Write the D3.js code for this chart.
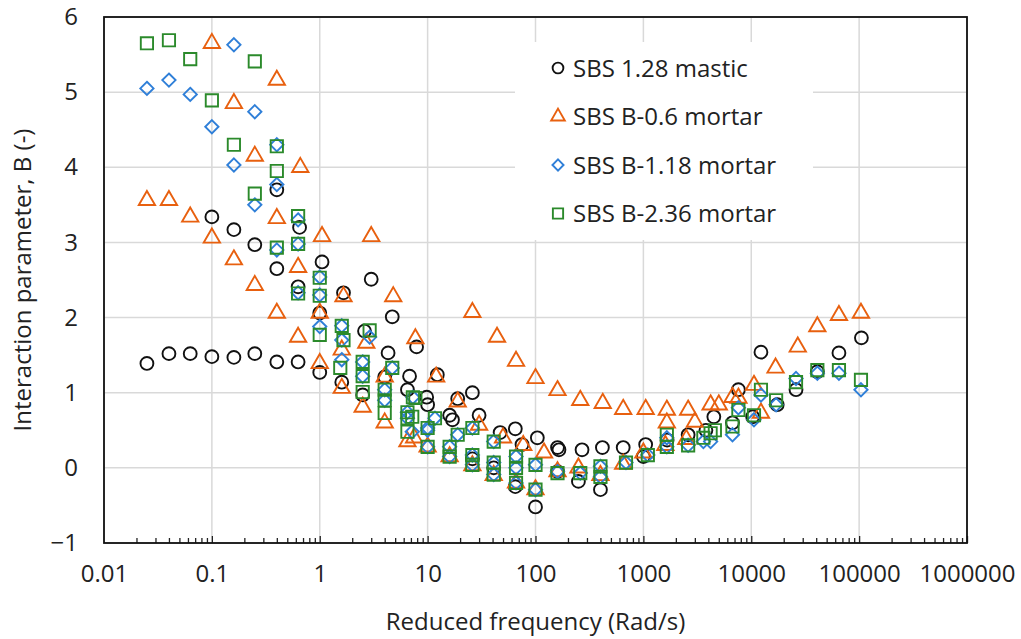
<!DOCTYPE html>
<html>
<head>
<meta charset="utf-8">
<script src="https://cdn.jsdelivr.net/npm/d3@7"></script>
<style>
  body { margin: 0; background: #fff; }
  svg text { font-family: "Open Sans", sans-serif; fill: #222; }
</style>
</head>
<body>
<div id="chart"></div>
<script>
// tick values / labels
var xTicks = [0.01, 0.1, 1, 10, 100, 1000, 10000, 100000, 1000000];
var xTickLabels = ["0.01", "0.1", "1", "10", "100", "1000", "10000", "100000", "1000000"];
var yTicks = [-1, 0, 1, 2, 3, 4, 5, 6];

var seriesNames = ["SBS 1.28 mastic", "SBS B-0.6 mortar", "SBS B-1.18 mortar", "SBS B-2.36 mortar"];

// [reduced frequency, B]
var mastic = [
  [0.025,1.39],[0.04,1.52],[0.063,1.52],[0.1,1.48],[0.16,1.47],[0.25,1.52],[0.4,1.41],[0.63,1.41],[1.0,1.27],[1.6,1.14],[2.5,0.97],
  [0.1,3.34],[0.16,3.17],[0.25,2.97],[0.4,2.65],[0.63,2.41],[1.0,2.06],[2.6,1.82],[4.3,1.53],
  [0.4,3.7],[0.65,3.2],[1.05,2.74],[1.66,2.33],[3.0,2.51],[4.7,2.01],[7.9,1.61],[12.3,1.24],
  [4.0,1.21],[6.5,1.04],[6.8,1.22],[9.8,0.94],[10,0.84],[16,0.7],[17,0.64],[19,0.92],[26,1.0],[30,0.7],
  [47,0.47],[65,0.52],[75,0.31],[104,0.4],[160,0.27],[165,0.24],[270,0.24],[417,0.27],[650,0.27],[1050,0.31],
  [1660,0.37],[2600,0.44],[3800,0.5],[4500,0.68],[6700,0.6],[7600,1.04],[10300,0.68],[12300,1.54],
  [17400,0.84],[26000,1.04],[41000,1.28],[65000,1.53],[105000,1.73],
  [26,0.12],[41,0.0],[65,-0.25],[100,-0.52],[160,-0.05],[250,-0.18],[400,-0.29],[1000,0.15]
];
var mortar06 = [
  [0.025,3.56],[0.04,3.56],[0.063,3.34],[0.1,3.06],[0.16,2.77],[0.25,2.43],[0.4,2.06],[0.63,1.74],[1.0,1.39],[1.6,1.06],[2.5,0.81],[4.0,0.6],[6.5,0.35],
  [0.1,5.65],[0.16,4.85],[0.25,4.15],[0.4,3.32],[0.63,2.67],[1.0,2.06],[1.6,1.57],[2.7,1.66],[4.0,1.21],
  [0.4,5.16],[0.66,4.0],[1.05,3.08],[1.66,2.28],[3.0,3.08],[4.8,2.28],[7.7,1.72],[12,1.21],[19,0.88],[30,0.57],[50,0.4],[77,0.3],[120,0.2],
  [26,2.07],[44,1.74],[66,1.42],[100,1.19],[160,1.03],[260,0.9],[420,0.86],[650,0.78],[1050,0.78],[1650,0.77],[2600,0.77],
  [4200,0.84],[5000,0.84],[6700,0.94],[7600,0.93],[10600,1.1],[16800,1.33],[27000,1.61],[41000,1.88],[65000,2.03],[104000,2.06],
  [1650,0.6],[3000,0.61],[12300,0.73],
  [7.5,0.4],[10,0.28],[16,0.15],[26,0.03],[41,-0.1],[66,-0.2],[100,-0.29],[160,-0.05],[250,0.0],[400,-0.1],[650,0.05],[1000,0.2],[1600,0.3],[2500,0.38]
];
var mortar118 = [
  [0.025,5.05],[0.04,5.16],[0.063,4.97],[0.1,4.54],[0.16,4.03],[0.25,3.5],[0.4,2.9],[0.63,2.33],[1.0,1.88],[1.6,1.44],[2.5,1.22],[4.0,0.9],[6.5,0.66],[10,0.5],
  [0.16,5.63],[0.25,4.74],[0.4,3.77],[0.63,2.98],[1.0,2.3],[1.6,1.7],[2.5,1.41],[4.0,1.04],[6.5,0.74],[10,0.53],[16,0.28],[26,0.17],[41,0.07],[66,0.0],[100,0.04],[160,-0.05],
  [0.4,4.3],[0.63,3.3],[1.0,2.54],[1.6,1.89],[2.9,1.74],[4.7,1.33],[7.3,0.94],[11.7,0.66],[19,0.44],[26,0.53],[41,0.35],[66,0.15],
  [7.2,0.48],[10,0.28],[16,0.15],[26,0.04],[41,-0.09],[66,-0.2],[100,-0.29],[260,-0.07],[400,0.02],[400,-0.12],[690,0.07],[1100,0.17],
  [1650,0.28],[1650,0.4],[2600,0.3],[3600,0.35],[4200,0.35],[6700,0.44],[7600,0.8],[10600,0.64],[12300,0.97],[17000,0.84],
  [26000,1.19],[41000,1.26],[65000,1.26],[104000,1.04]
];
var mortar236 = [
  [0.025,5.65],[0.04,5.69],[0.063,5.44],[0.1,4.89],[0.16,4.3],[0.25,3.65],[0.4,2.93],[0.63,2.32],[1.0,1.77],[1.55,1.33],[2.5,1.01],[4.0,0.73],[6.5,0.48],[10,0.28],[16,0.15],[26,0.04],[41,-0.09],[66,-0.2],[100,-0.29],
  [0.25,5.41],[0.4,4.28],[0.63,3.35],[1.0,2.53],[1.6,1.89],[2.9,1.83],[4.7,1.33],
  [0.4,3.95],[0.63,2.98],[1.0,2.29],[1.66,1.7],[2.5,1.41],[4.0,1.04],[6.5,0.74],[10,0.53],[16,0.28],
  [2.5,1.22],[4.0,0.9],[6.5,0.66],[7.3,0.94],[7.7,0.93],[7.2,0.68],[11.7,0.66],[19,0.44],[26,0.53],[41,0.35],[66,0.15],
  [26,0.17],[41,0.07],[66,0.0],[100,0.04],[160,-0.07],[260,-0.07],[400,0.02],[400,-0.12],[690,0.07],[1100,0.17],
  [1650,0.28],[1650,0.44],[2600,0.3],[3600,0.4],[4200,0.46],[4600,0.5],[6700,0.55],[7600,0.77],[10600,0.7],[12300,1.04],
  [17000,0.9],[26000,1.14],[41000,1.3],[65000,1.3],[104000,1.17]
];

var colors = ["#111111", "#E8600F", "#2F7FD8", "#2B8A2B"];

// Excel-style diamond: a square turned 45 degrees
var diamondWide = {
  draw: function(context, size) {
    var r = Math.sqrt(size / 2);
    context.moveTo(0, -r);
    context.lineTo(r, 0);
    context.lineTo(0, r);
    context.lineTo(-r, 0);
    context.closePath();
  }
};
var shapes = [d3.symbolCircle, d3.symbolTriangle, diamondWide, d3.symbolSquare];
var sizes = [130, 115, 88, 150];

var width = 1021, height = 639;
var margin = {top: 17, right: 54, bottom: 96, left: 104};
var fontSize = "24px";

var svg = d3.select("#chart").append("svg")
  .attr("width", width)
  .attr("height", height);

var x = d3.scaleLog().domain([0.01, 1000000]).range([margin.left, width - margin.right]);
var y = d3.scaleLinear().domain([-1, 6]).range([height - margin.bottom, margin.top]);

// gridlines
svg.append("g").selectAll("line.gx")
  .data(xTicks)
  .enter().append("line")
  .attr("x1", function(d) { return x(d); })
  .attr("x2", function(d) { return x(d); })
  .attr("y1", y(6)).attr("y2", y(-1))
  .attr("stroke", "#d9d9d9").attr("stroke-width", 1.5);

svg.append("g").selectAll("line.gy")
  .data(yTicks)
  .enter().append("line")
  .attr("x1", x(0.01)).attr("x2", x(1000000))
  .attr("y1", function(d) { return y(d); })
  .attr("y2", function(d) { return y(d); })
  .attr("stroke", "#d9d9d9").attr("stroke-width", 1.5);

// minor ticks (inside, pointing up)
var minor = [];
xTicks.slice(0, -1).forEach(function(t) {
  for (var k = 2; k <= 10; k++) minor.push(t * k);
});
svg.append("g")
  .attr("transform", "translate(0," + y(-1) + ")")
  .call(d3.axisBottom(x).tickValues(minor).tickSize(-5).tickFormat(""))
  .call(function(g) { g.select(".domain").remove(); })
  .selectAll("line").attr("stroke", "#222").attr("stroke-width", 1.3)
  .filter(function(d) { return xTicks.indexOf(d) >= 0; }).attr("y2", -7);

// x axis labels
svg.append("g")
  .attr("transform", "translate(0," + y(-1) + ")")
  .call(d3.axisBottom(x).tickValues(xTicks).tickSize(0).tickPadding(22)
    .tickFormat(function(d, i) { return xTickLabels[i]; }))
  .call(function(g) { g.select(".domain").remove(); })
  .selectAll("text").style("font-size", fontSize).style("font-family", "'Open Sans', sans-serif").attr("fill", "#222");

// y axis labels
svg.append("g")
  .attr("transform", "translate(" + x(0.01) + ",0)")
  .call(d3.axisLeft(y).tickValues(yTicks).tickSize(0).tickPadding(26).tickFormat(d3.format("d")))
  .call(function(g) { g.select(".domain").remove(); })
  .selectAll("text").style("font-size", fontSize).style("font-family", "'Open Sans', sans-serif").attr("fill", "#222");

// frame
svg.append("rect")
  .attr("x", x(0.01)).attr("y", y(6))
  .attr("width", x(1000000) - x(0.01)).attr("height", y(-1) - y(6))
  .attr("fill", "none").attr("stroke", "#111").attr("stroke-width", 1.8);

// legend box (drawn before points so it hides gridlines)
var legend = svg.append("g");
legend.append("rect")
  .attr("x", 515).attr("y", 42).attr("width", 298).attr("height", 198)
  .attr("fill", "#fff");

// points
var allSeries = [mastic, mortar06, mortar118, mortar236];
allSeries.forEach(function(data, i) {
  svg.append("g").selectAll("path")
    .data(data)
    .enter().append("path")
    .attr("d", d3.symbol().type(shapes[i]).size(sizes[i]))
    .attr("transform", function(d) {
      return "translate(" + x(d[0]) + "," + y(d[1]) + ")";
    })
    .attr("fill", "none")
    .attr("stroke", colors[i])
    .attr("stroke-width", 1.9);
});

// legend entries
seriesNames.forEach(function(name, i) {
  var ly = 68 + i * 48.5;
  legend.append("path")
    .attr("d", d3.symbol().type(shapes[i]).size(sizes[i] * 0.7))
    .attr("transform", "translate(558," + ly + ")")
    .attr("fill", "none").attr("stroke", colors[i]).attr("stroke-width", 1.9);
  legend.append("text")
    .attr("x", 573).attr("y", ly)
    .attr("dy", "0.36em")
    .style("font-size", fontSize)
    .text(name);
});

// axis titles
svg.append("text")
  .attr("x", (x(0.01) + x(1000000)) / 2).attr("y", 621)
  .attr("text-anchor", "middle").attr("dy", "0.36em")
  .style("font-size", fontSize)
  .text("Reduced frequency (Rad/s)");

svg.append("text")
  .attr("transform", "translate(22," + (y(6) + y(-1)) / 2 + ") rotate(-90)")
  .attr("text-anchor", "middle").attr("dy", "0.36em")
  .style("font-size", fontSize)
  .text("Interaction parameter, B (-)");
</script>
</body>
</html>
